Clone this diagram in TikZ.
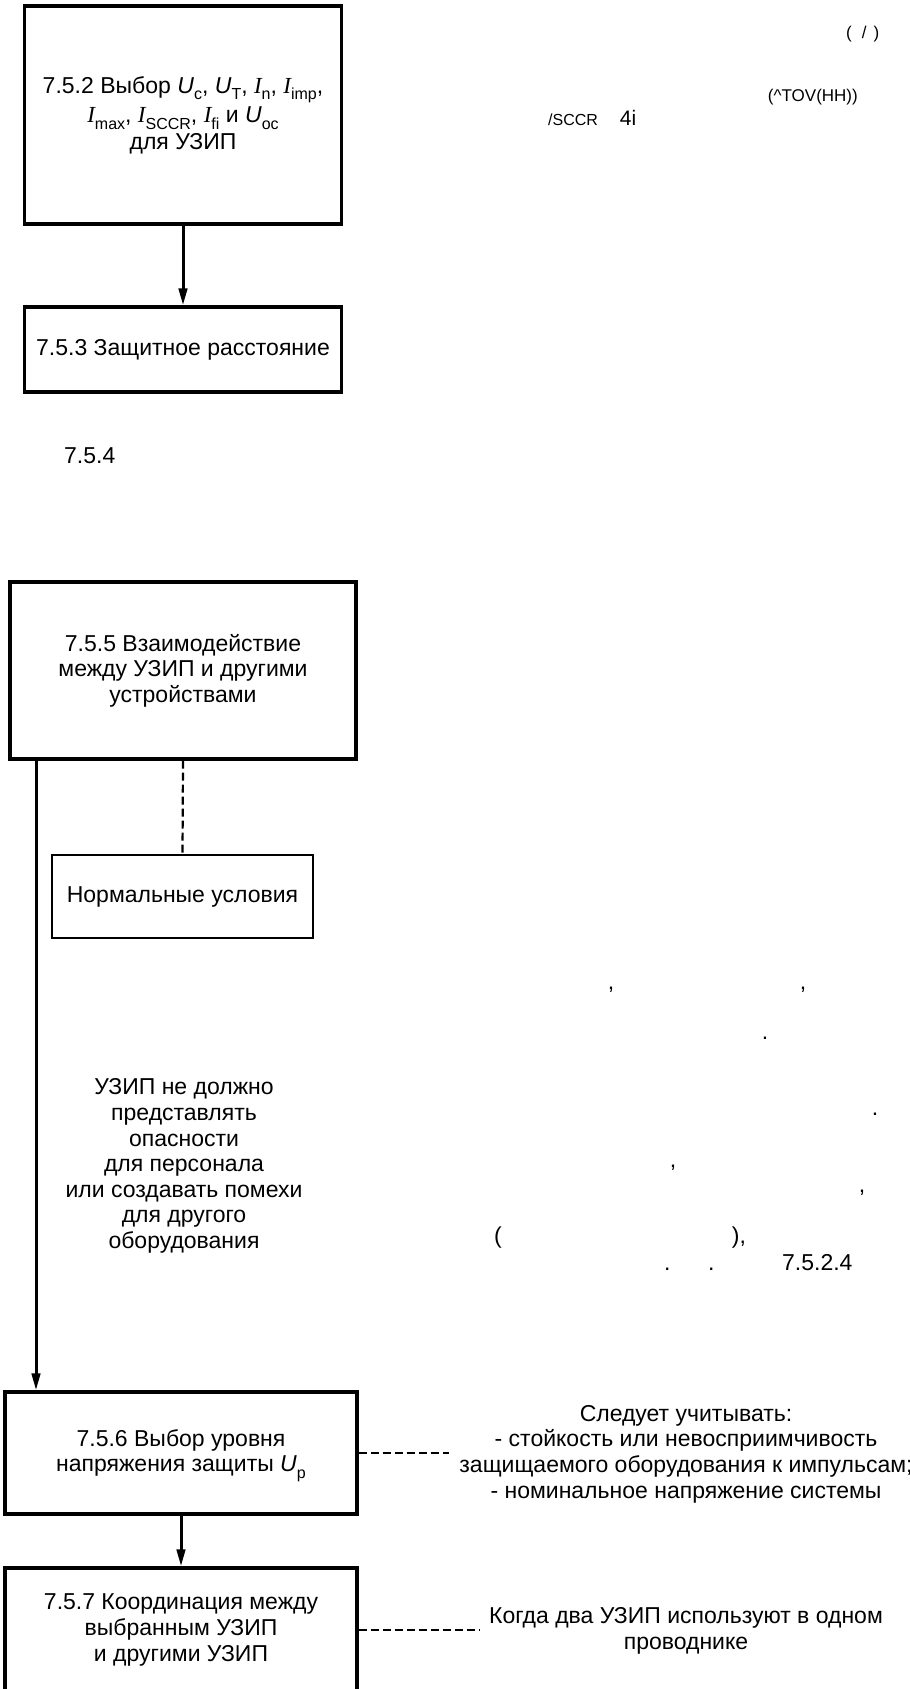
\documentclass[tikz,border=0pt]{standalone}
\usepackage{fontspec}
\setmainfont{Liberation Sans}
\newfontfamily\lserif{Liberation Serif}
\usetikzlibrary{arrows.meta}
\newcommand\varU{\textit{U}}
\newcommand\varI{{\lserif\itshape I}}
\newcommand\sbx[1]{\raisebox{-0.28em}[0pt][0pt]{\fontsize{16}{16}\selectfont #1}}
\tikzset{
  basetxt/.style={font=\fontsize{23}{25.6}\selectfont, inner sep=0pt},
  box/.style={basetxt, draw, line width=3.4pt, align=center},
  conn/.style={line width=3pt, -{Triangle[length=17pt,width=8.5pt]}},
  dashconn/.style={line width=2.2pt, dash pattern=on 8pt off 4pt},
  stray/.style={basetxt, anchor=base west},
  punct/.style={basetxt, anchor=base},
  note/.style={basetxt, align=center, inner xsep=10pt},
}
\begin{document}
\begin{tikzpicture}[x=1pt,y=-1pt]
\useasboundingbox (0,0) rectangle (910,1689);
% boxes
\node[box, minimum width=316.5pt, minimum height=218pt] (b1) at (183,115)
  {7.5.2 Выбор \varU\sbx{c}, \varU\sbx{T}, \varI\sbx{n}, \varI\sbx{imp},\\[4pt]
   \varI\sbx{max}, \varI\sbx{SCCR}, \varI\sbx{fi} и \varU\sbx{oc}\\[1pt]
   для УЗИП};
\node[box, minimum width=316.5pt, minimum height=85pt] (b2) at (183,349.5)
  {7.5.3 Защитное расстояние};
\node[box, minimum width=346pt, minimum height=177pt] (b3) at (183,670.5)
  {7.5.5 Взаимодействие\\между УЗИП и другими\\устройствами};
\node[box, line width=2.6pt, minimum width=261pt, minimum height=83pt] (b4) at (182.5,896.5)
  {Нормальные условия};
\node[box, minimum width=352pt, minimum height=122pt] (b5) at (181,1453)
  {7.5.6 Выбор уровня\\напряжения защиты \varU\sbx{p}};
\node[box, minimum width=352pt, minimum height=124pt] (b6) at (181,1630)
  {7.5.7 Координация между\\выбранным УЗИП\\и другими УЗИП};
% notes
\node[basetxt, align=center] (n0) at (184,1166)
  {УЗИП не должно\\представлять\\опасности\\для персонала\\или создавать помехи\\для другого\\оборудования};
\node[note] (n1) at (686,1454)
  {Следует учитывать:\\- стойкость или невосприимчивость\\защищаемого оборудования к импульсам;\\- номинальное напряжение системы};
\node[note] (n2) at (686,1631)
  {Когда два УЗИП используют в одном\\проводнике};
% stray fragments
\node[stray, font=\fontsize{17}{17}\selectfont] (t1) at (846,38) {(\hspace{10pt}/\hspace{7pt})};
\node[basetxt, anchor=base east, font=\fontsize{17}{17}\selectfont] (t2) at (858,101) {(\textasciicircum TOV(HH))};
\node[stray] (t3) at (548,125) {{\fontsize{16}{16}\selectfont /SCCR}\hspace{22pt}{\fontsize{21}{21}\selectfont 4i}};
\node[stray] (t4) at (64,463) {7.5.4};
\node[punct] (c1) at (611,989) {,};
\node[punct] (c2) at (803,989) {,};
\node[punct] (d1) at (765,1039) {.};
\node[punct] (d2) at (875,1115) {.};
\node[punct] (c3) at (673,1167) {,};
\node[punct] (c4) at (862,1192) {,};
\node[stray] (t5) at (494,1243) {(\hspace{230pt}),};
\node[stray] (t6) at (664,1270) {.\hspace{37.6pt}.\hspace{67.6pt}7.5.2.4};
% connectors
\coordinate (sx) at (36,0);
\draw[conn] (b1.south) -- (b2.north);
\draw[conn] (b3.south -| sx) -- (b5.north -| sx);
\draw[dashconn] (b3.south) -- (b4.north);
\draw[conn] (b5.south) -- (b6.north);
\draw[dashconn] (b5.east) -- (n1.west |- b5.east);
\draw[dashconn] (b6.east) -- (n2.west |- b6.east);
\end{tikzpicture}
\end{document}
